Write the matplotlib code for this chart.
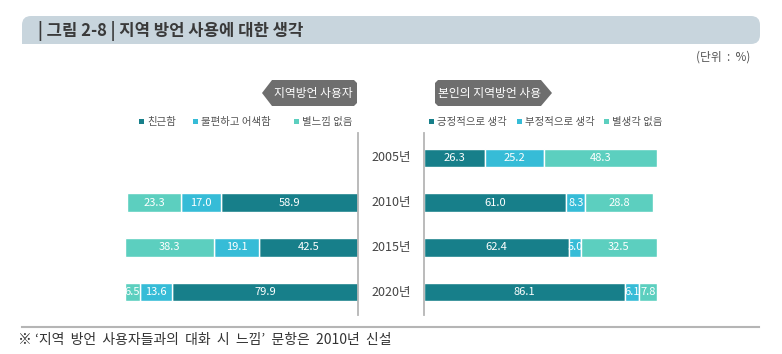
import numpy as np
import matplotlib.pyplot as plt
import matplotlib.transforms as mtransforms
from matplotlib.patches import FancyBboxPatch, Rectangle, Polygon

plt.rcParams['font.family'] = ['Noto Sans CJK KR', 'DejaVu Sans']

# data
years = ['2005년', '2010년', '2015년', '2020년']

# left panel: 지역방언 사용자 (no 2005 item)
friendly = [np.nan, 58.9, 42.5, 79.9]
awkward = [np.nan, 17.0, 19.1, 13.6]
no_feel = [np.nan, 23.3, 38.3, 6.5]
left_names = ['친근함', '불편하고 어색함', '별느낌 없음']

# right panel: 본인의 지역방언 사용
positive = [26.3, 61.0, 62.4, 86.1]
negative = [25.2, 8.3, 5.0, 6.1]
no_thought = [48.3, 28.8, 32.5, 7.8]
right_names = ['긍정적으로 생각', '부정적으로 생각', '별생각 없음']

colors = ['#177f8a', '#36bcd7', '#5ccfbf']

W, H = 782, 354
fig = plt.figure(figsize=(W / 100, H / 100), dpi=100)

# pixel transform (x from left, y from top)
px = mtransforms.Affine2D().scale(1, -1).translate(0, H).scale(0.01) + fig.dpi_scale_trans


def fbox(x0, y0, x1, y1):
    return [x0 / W, 1 - y1 / H, (x1 - x0) / W, (y1 - y0) / H]


# title band
band = FancyBboxPatch((22, 16), 738, 28, boxstyle='round,pad=0,rounding_size=9',
                      transform=px, facecolor='#c8d5dd', edgecolor='none')
fig.add_artist(band)
fig.add_artist(Rectangle((22, 32), 720, 12, transform=px, facecolor='#c8d5dd', edgecolor='none'))
fig.text(38, 31, '| 그림 2-8 | 지역 방언 사용에 대한 생각', transform=px, fontsize=12,
         fontweight='bold', color='#3a3a3a', va='center', ha='left')
fig.text(750, 57, '(단위  :  %)', transform=px, fontsize=8.5, color='#555555', va='center', ha='right')

# tags
fig.add_artist(Polygon([(262, 93), (272, 80), (354, 80), (357, 83), (357, 103), (354, 106), (272, 106)],
                       closed=True, transform=px, facecolor='#6e6e6e', edgecolor='none'))
fig.text(313, 93, '지역방언 사용자', transform=px, fontsize=8.5, color='white', va='center', ha='center')
fig.add_artist(Polygon([(438, 80), (541, 80), (552, 93), (541, 106), (438, 106), (435, 103), (435, 83)],
                       closed=True, transform=px, facecolor='#6e6e6e', edgecolor='none'))
fig.text(490, 93, '본인의 지역방언 사용', transform=px, fontsize=8.5, color='white', va='center', ha='center')

# legends
for xs, names in [([142, 196, 297], left_names), ([432, 520, 607], right_names)]:
    for x, name, c in zip(xs, names, colors):
        fig.add_artist(Rectangle((x - 3, 119), 5, 5, transform=px, facecolor=c, edgecolor='none'))
        fig.text(x + 5, 122, name, transform=px, fontsize=7.5, color='#555555', va='center', ha='left')

ylim = (3.58, -0.626)
bar_h = 0.42
idx = np.arange(len(years))

# left axes
axl = fig.add_axes(fbox(125, 130, 358, 318))
left_series = [friendly, awkward, no_feel]
base = np.zeros(len(years))
for vals, c in zip(left_series, colors):
    v = np.nan_to_num(np.array(vals, dtype=float))
    axl.barh(idx, v, left=base, height=bar_h, color=c, edgecolor='white', linewidth=1)
    for i in idx:
        if v[i] > 0:
            axl.text(base[i] + v[i] / 2, i, f'{v[i]:.1f}', ha='center', va='center',
                     fontsize=8, color='white')
    base += v
axl.set_xlim(100, 0)
axl.set_ylim(*ylim)
axl.axis('off')
axl.axvline(0, ymin=0.016, ymax=0.985, color='#b5b5b5', lw=1.3, clip_on=False)

# right axes
axr = fig.add_axes(fbox(424, 130, 657, 318))
right_series = [positive, negative, no_thought]
base = np.zeros(len(years))
for vals, c in zip(right_series, colors):
    v = np.array(vals, dtype=float)
    axr.barh(idx, v, left=base, height=bar_h, color=c, edgecolor='white', linewidth=1)
    for i in idx:
        axr.text(base[i] + v[i] / 2, i, f'{v[i]:.1f}', ha='center', va='center',
                 fontsize=8, color='white')
    base += v
axr.set_xlim(0, 100)
axr.set_ylim(*ylim)
axr.axis('off')
axr.axvline(0, ymin=0.016, ymax=0.985, color='#b5b5b5', lw=1.3, clip_on=False)

# year labels in the centre
tr = mtransforms.blended_transform_factory(fig.transFigure, axr.transData)
for i, y in enumerate(years):
    axr.text(391 / W, i, y, transform=tr, ha='center', va='center', fontsize=9, color='#444444')

# bottom rule and footnote
fig.add_artist(plt.Line2D([22, 759], [327, 327], transform=px, color='#b5b5b5', lw=1.5))
fig.text(18, 340, "※ ‘지역  방언  사용자들과의  대화  시  느낌’  문항은  2010년  신설", transform=px,
         fontsize=10, color='#333333', va='center', ha='left')

fig.savefig('out.png', dpi=100)
